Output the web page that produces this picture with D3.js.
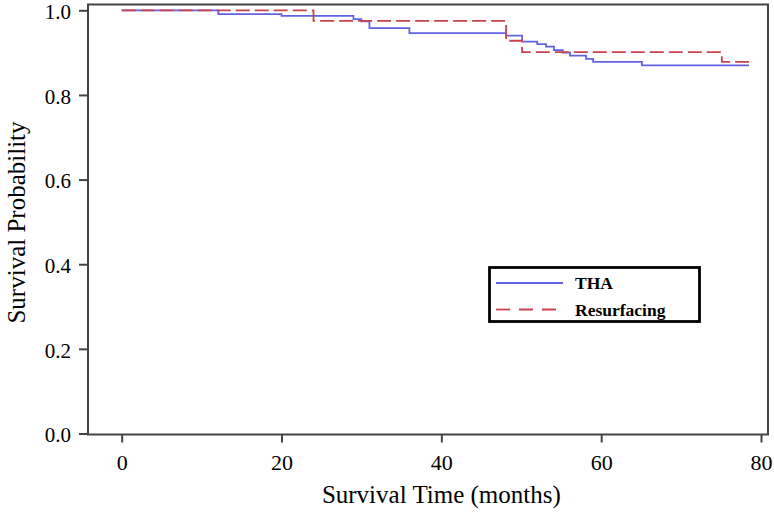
<!DOCTYPE html>
<html>
<head>
<meta charset="utf-8">
<script src="https://cdn.jsdelivr.net/npm/d3@7"></script>
<style>
  html, body { margin: 0; padding: 0; background: #fff; }
  svg { display: block; }
</style>
</head>
<body>
<svg id="chart" width="774" height="515"></svg>
<script>
// ---- Data ----
const thaTime = [0, 12.1, 20.0, 29.0, 30.0, 31.0, 36.0, 48.1, 50.1, 52.0, 53.1, 54.1, 55.2, 56.1, 58.1, 59.0, 65.1, 78.5];
const thaSurv = [1.0, 0.991, 0.987, 0.979, 0.974, 0.958, 0.946, 0.940, 0.926, 0.920, 0.914, 0.906, 0.900, 0.893, 0.885, 0.878, 0.870, 0.870];
const resTime = [0, 24.0, 48.1, 50.1, 75.1, 78.5];
const resSurv = [1.0, 0.975, 0.928, 0.901, 0.878, 0.878];
const xTicks = [0, 20, 40, 60, 80];
const yTicks = [0.0, 0.2, 0.4, 0.6, 0.8, 1.0];
const seriesNames = ["THA", "Resurfacing"];
const seriesColors = ["#6363e2", "#c9434f"];

(function () {
const svg = d3.select("#chart");
const font = "'Liberation Serif', 'Times New Roman', serif";

const x = d3.scaleLinear().domain([0, 80]).range([121.7, 761]);
const y = d3.scaleLinear().domain([0, 1]).range([433.5, 10.3]);

const pL = 88, pR = 768, pT = 4.5, pB = 434.5;

// frame
svg.append("rect")
  .attr("x", pL).attr("y", pT)
  .attr("width", pR - pL).attr("height", pB - pT)
  .attr("fill", "none").attr("stroke", "#444").attr("stroke-width", 2);

// x axis
const xAxis = svg.append("g")
  .attr("transform", `translate(0,${pB})`)
  .call(d3.axisBottom(x).tickValues(xTicks).tickSize(8).tickPadding(12).tickFormat(d3.format("d")));
xAxis.select(".domain").remove();
xAxis.selectAll("line").attr("stroke", "#444").attr("stroke-width", 2);
xAxis.selectAll("text").attr("font-family", font).attr("font-size", 22).attr("fill", "#000");

// y axis
const yAxis = svg.append("g")
  .attr("transform", `translate(${pL},0)`)
  .call(d3.axisLeft(y).tickValues(yTicks).tickSize(9).tickPadding(8).tickFormat(d3.format(".1f")));
yAxis.select(".domain").remove();
yAxis.selectAll("line").attr("stroke", "#444").attr("stroke-width", 2);
yAxis.selectAll("text").attr("font-family", font).attr("font-size", 21)
  .attr("dy", "0.4em").attr("fill", "#000");

// axis titles
svg.append("text")
  .attr("x", x(40)).attr("y", 503)
  .attr("text-anchor", "middle")
  .attr("font-family", font).attr("font-size", 25).attr("fill", "#000")
  .text("Survival Time (months)");

svg.append("text")
  .attr("transform", `translate(25,${(pT + pB) / 2 + 3}) rotate(-90)`)
  .attr("text-anchor", "middle")
  .attr("font-family", font).attr("font-size", 25).attr("fill", "#000")
  .text("Survival Probability");

// curves
const line = d3.line().curve(d3.curveStepAfter).x(d => x(d[0])).y(d => y(d[1]));
const thaData = thaTime.map((t, i) => [t, thaSurv[i]]);
const resData = resTime.map((t, i) => [t, resSurv[i]]);

svg.append("path").datum(thaData)
  .attr("d", line).attr("fill", "none")
  .attr("stroke", seriesColors[0]).attr("stroke-width", 1.8);

svg.append("path").datum(resData)
  .attr("d", line).attr("fill", "none")
  .attr("stroke", seriesColors[1]).attr("stroke-width", 1.8)
  .attr("stroke-dasharray", "14,5");

// legend
const lg = svg.append("g");
lg.append("rect")
  .attr("x", 489.5).attr("y", 267.5).attr("width", 210).attr("height", 54)
  .attr("fill", "#fff").attr("stroke", "#000").attr("stroke-width", 2.8);
seriesNames.forEach((name, i) => {
  const yy = 283 + i * 26.5;
  lg.append("line")
    .attr("x1", 496).attr("x2", 563).attr("y1", yy).attr("y2", yy)
    .attr("stroke", seriesColors[i]).attr("stroke-width", 1.8)
    .attr("stroke-dasharray", i === 1 ? "14,9" : null);
  lg.append("text")
    .attr("x", 575).attr("y", yy + 6)
    .attr("font-family", font).attr("font-size", 17.5).attr("font-weight", "bold")
    .attr("fill", "#000")
    .text(name);
});
})();
</script>
</body>
</html>
